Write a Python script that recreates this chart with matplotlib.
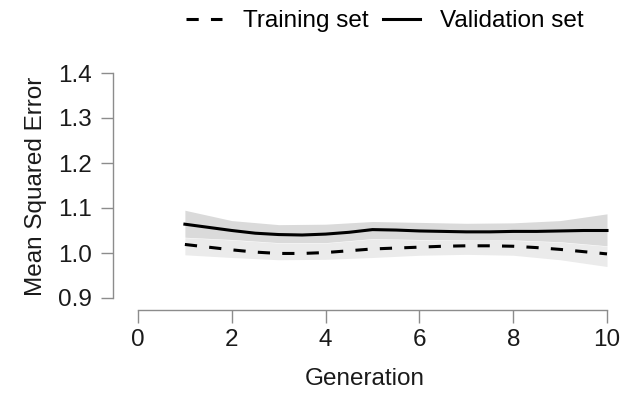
import numpy as np
import matplotlib
matplotlib.use("Agg")
from matplotlib import pyplot as plt
from matplotlib.lines import Line2D

plt.rcParams['font.family'] = ['Liberation Sans', 'DejaVu Sans']

# curves, half-generation steps
gen = [1, 1.5, 2, 2.5, 3, 3.5, 4, 4.5, 5, 5.5, 6, 6.5, 7, 7.5, 8, 8.5, 9, 9.5, 10]
val_mse = [1.064, 1.057, 1.050, 1.044, 1.041, 1.040, 1.042, 1.046, 1.052, 1.051,
           1.049, 1.048, 1.047, 1.047, 1.048, 1.048, 1.049, 1.050, 1.050]
train_mse = [1.019, 1.013, 1.007, 1.002, 0.999, 0.999, 1.001, 1.005, 1.009, 1.011,
             1.013, 1.015, 1.016, 1.016, 1.015, 1.012, 1.008, 1.003, 0.998]

# confidence bands at whole generations
band_gen = [1, 2, 3, 4, 5, 6, 7, 8, 9, 10]
val_hi = [1.095, 1.072, 1.063, 1.064, 1.070, 1.068, 1.066, 1.067, 1.072, 1.087]
val_lo = [1.035, 1.030, 1.023, 1.023, 1.032, 1.030, 1.029, 1.029, 1.025, 1.016]
train_hi = [1.034, 1.029, 1.022, 1.022, 1.031, 1.029, 1.028, 1.028, 1.024, 1.015]
train_lo = [0.996, 0.990, 0.985, 0.986, 0.990, 0.995, 0.997, 0.995, 0.985, 0.970]

xticks = [0, 2, 4, 6, 8, 10]
yticks = [0.9, 1.0, 1.1, 1.2, 1.3, 1.4]

FS = 17.5

fig = plt.figure(figsize=(6.21, 3.94), dpi=100)
ax = fig.add_axes([113 / 621, 1 - 310 / 394, (616 - 113) / 621, (310 - 62) / 394])

ax.fill_between(band_gen, train_lo, train_hi, color='#ebebeb', lw=0)
ax.fill_between(band_gen, val_lo, val_hi, color='#dadada', lw=0)
ax.plot(gen, train_mse, color='black', lw=2.2, dashes=(4, 4))
ax.plot(gen, val_mse, color='black', lw=2.2)

# x: 0 at px 138, 10 at px 607 ; y: 1.4 at px 73, 0.9 at px 298
xs = (607 - 138) / 10
ax.set_xlim(-(138 - 113) / xs, 10 + (616 - 607) / xs)
ys = (298 - 73) / 0.5
ax.set_ylim(0.9 - (310 - 298) / ys, 1.4 + (73 - 62) / ys)

for s in ['top', 'right']:
    ax.spines[s].set_visible(False)
for s in ['left', 'bottom']:
    ax.spines[s].set_color('#8c8c8c')
    ax.spines[s].set_linewidth(1.0)
ax.spines['bottom'].set_bounds(0, 10)
ax.spines['left'].set_bounds(0.9, 1.4)

ax.set_xticks(xticks)
ax.set_yticks(yticks)
ax.set_yticklabels([f'{v:.1f}' for v in yticks])
ax.tick_params(axis='both', colors='#8c8c8c', labelcolor='#1a1a1a', labelsize=FS,
               length=9, width=1.0)
ax.tick_params(axis='y', pad=6)
ax.tick_params(axis='x', pad=5)

ax.set_xlabel('Generation', fontsize=FS, color='#1a1a1a', labelpad=12)
ax.set_ylabel('Mean Squared Error', fontsize=FS, color='#1a1a1a', labelpad=8)

handles = [Line2D([], [], color='black', lw=2.2, dashes=(4, 4)),
           Line2D([], [], color='black', lw=2.2)]
fig.legend(handles, ['Training set', 'Validation set'], loc='center',
           bbox_to_anchor=(385 / 621, 1 - 21 / 394), ncol=2, frameon=False,
           fontsize=FS, handlelength=1.5, handletextpad=0.85, columnspacing=0.6,
           borderaxespad=0, borderpad=0)

fig.savefig('out.png', dpi=100)
